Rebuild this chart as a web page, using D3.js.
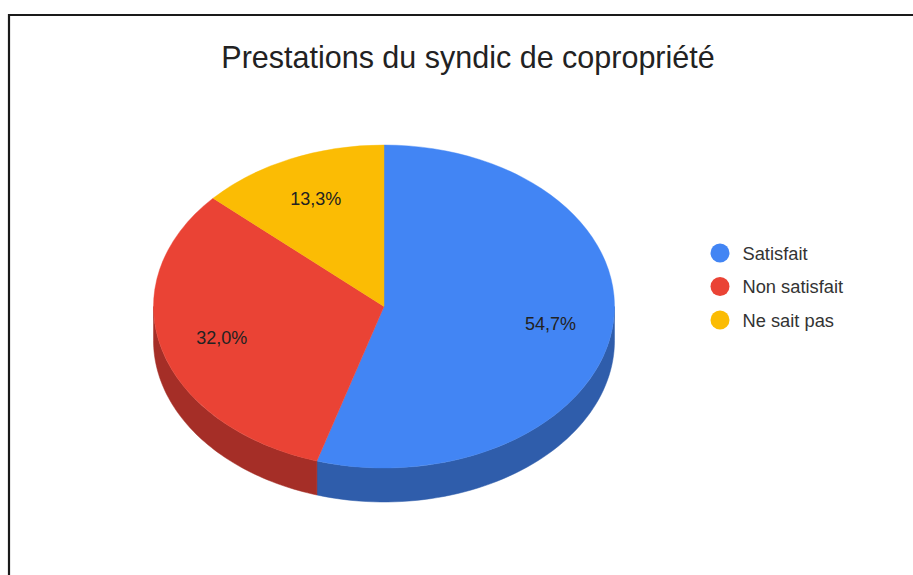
<!DOCTYPE html>
<html>
<head>
<meta charset="utf-8">
<script src="https://cdn.jsdelivr.net/npm/d3@7"></script>
<style>
  body { margin: 0; background: #fff; }
  svg { display: block; font-family: Arial, "Liberation Sans", sans-serif; }
</style>
</head>
<body>
<div id="wrapper"></div>
<script>
const categories = ["Satisfait", "Non satisfait", "Ne sait pas"];
const values = [54.7, 32.0, 13.3];
const labels = ["54,7%", "32,0%", "13,3%"];
const topColors = ["#4285f4", "#ea4335", "#fbbc04"];
const sideColors = ["#2f5dab", "#a52e27", "#b08400"];
const title = "Prestations du syndic de copropriété";

function buildChart() {
    const dimension = {
        width: 913,
        height: 575,
        cx: 384,
        cy: 306.5,
        rx: 230.5,
        ry: 161.5,
        depth: 34
    };

    const svg = d3.select("#wrapper").append("svg")
        .attr("width", dimension.width)
        .attr("height", dimension.height);

    // frame (only top and left edges are visible in the screenshot)
    svg.append("path")
        .attr("d", "M9,576 L9,15 L914,15")
        .attr("fill", "none")
        .attr("stroke", "#1a1a1a")
        .attr("stroke-width", 2.2);

    svg.append("text")
        .attr("x", 468)
        .attr("y", 68)
        .attr("text-anchor", "middle")
        .style("font-size", "30.5px")
        .style("fill", "#222")
        .text(title);

    const pie = d3.pie().sort(null).value(d => d)(values);

    // ellipse point for an angle measured clockwise from 12 o'clock
    const pt = (a, dy = 0) => [
        dimension.cx + dimension.rx * Math.sin(a),
        dimension.cy - dimension.ry * Math.cos(a) + dy
    ];

    // side walls: only the front half (angles between PI/2 and 3PI/2)
    const sides = svg.append("g");
    pie.forEach((p, i) => {
        const a0 = Math.max(p.startAngle, Math.PI / 2);
        const a1 = Math.min(p.endAngle, 3 * Math.PI / 2);
        if (a1 <= a0) return;
        const n = 60;
        const angles = d3.range(n + 1).map(k => a0 + (a1 - a0) * k / n);
        const top = angles.map(a => pt(a));
        const bottom = angles.slice().reverse().map(a => pt(a, dimension.depth));
        sides.append("path")
            .attr("d", d3.line()(top.concat(bottom)) + "Z")
            .attr("fill", sideColors[i])
            .attr("stroke", sideColors[i])
            .attr("stroke-width", 0.5);
    });

    // top face: circle arcs squashed vertically
    const arc = d3.arc().innerRadius(0).outerRadius(dimension.rx);
    const face = svg.append("g")
        .attr("transform", `translate(${dimension.cx},${dimension.cy}) scale(1,${dimension.ry / dimension.rx})`);
    face.selectAll("path")
        .data(pie)
        .enter()
        .append("path")
        .attr("d", arc)
        .attr("fill", (d, i) => topColors[i])
        .attr("stroke", (d, i) => topColors[i])
        .attr("stroke-width", 0.5);

    // percentage labels
    const k = 0.73;
    svg.selectAll("text.pct")
        .data(pie)
        .enter()
        .append("text")
        .attr("class", "pct")
        .attr("x", d => dimension.cx + k * dimension.rx * Math.sin((d.startAngle + d.endAngle) / 2))
        .attr("y", d => dimension.cy - k * dimension.ry * Math.cos((d.startAngle + d.endAngle) / 2))
        .attr("text-anchor", "middle")
        .attr("dominant-baseline", "central")
        .style("font-size", "18px")
        .style("fill", "#222")
        .text((d, i) => labels[i]);

    // legend
    const legend = svg.append("g");
    const legendY = d3.scalePoint().domain(categories).range([253, 320]);
    categories.forEach((c, i) => {
        legend.append("circle")
            .attr("cx", 720)
            .attr("cy", legendY(c))
            .attr("r", 9.5)
            .attr("fill", topColors[i]);
        legend.append("text")
            .attr("x", 742.5)
            .attr("y", legendY(c))
            .attr("dominant-baseline", "central")
            .style("font-size", "18.3px")
            .style("fill", "#333")
            .text(c);
    });
}

buildChart();
</script>
</body>
</html>
